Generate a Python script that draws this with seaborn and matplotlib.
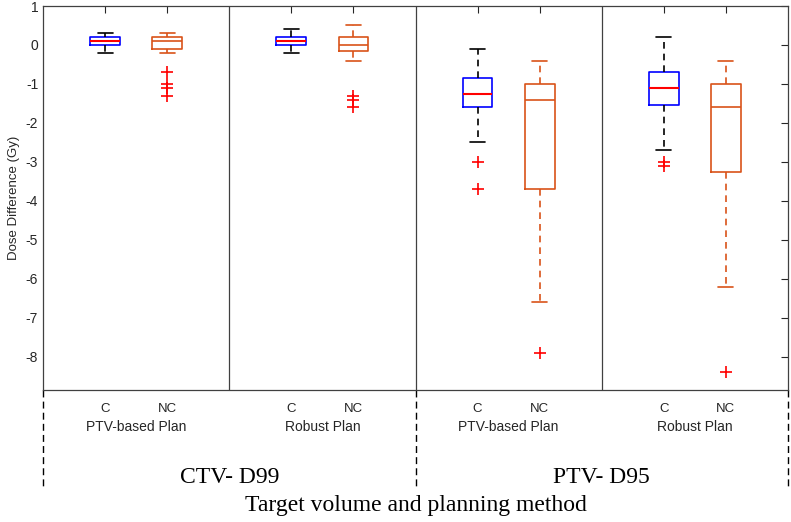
import numpy as np
import pandas as pd
import seaborn as sns
import matplotlib.pyplot as plt
import matplotlib.transforms as mtransforms

# box positions along x (gaps at 3, 6, 9 separate the plans)
positions = [1, 2, 4, 5, 7, 8, 10, 11]
kinds = ["C", "NC", "C", "NC", "C", "NC", "C", "NC"]
plan_labels = ["PTV-based Plan", "Robust Plan", "PTV-based Plan", "Robust Plan"]
volume_labels = ["CTV- D99", "PTV- D95"]

# dose differences (Gy), estimated from the figure
ctv_ptv_c = [-0.2, -0.1, -0.1, 0.0, 0.0, 0.0, 0.0, 0.1, 0.1, 0.1, 0.1,
             0.1, 0.1, 0.2, 0.2, 0.2, 0.2, 0.2, 0.3, 0.3, 0.3]
ctv_ptv_nc = [-1.3, -1.1, -1.0, -0.7, -0.2, -0.1, -0.1, 0.0, 0.0, 0.1, 0.1,
              0.1, 0.1, 0.2, 0.2, 0.2, 0.2, 0.2, 0.3, 0.3, 0.3]
ctv_rob_c = [-0.2, -0.1, -0.1, 0.0, 0.0, 0.0, 0.0, 0.1, 0.1, 0.1, 0.1,
             0.1, 0.1, 0.2, 0.2, 0.2, 0.2, 0.3, 0.3, 0.4, 0.4]
ctv_rob_nc = [-1.6, -1.4, -1.3, -0.4, -0.2, -0.15, -0.1, -0.1, 0.0, 0.0, 0.0,
              0.0, 0.1, 0.1, 0.1, 0.2, 0.2, 0.3, 0.3, 0.4, 0.5]
ptv_ptv_c = [-3.7, -3.0, -2.5, -2.1, -1.8, -1.6, -1.5, -1.4, -1.35, -1.3, -1.25,
             -1.2, -1.1, -1.0, -0.9, -0.85, -0.8, -0.6, -0.4, -0.3, -0.1]
ptv_ptv_nc = [-7.9, -6.6, -5.5, -4.6, -4.0, -3.7, -3.0, -2.4, -1.9, -1.6, -1.4,
              -1.3, -1.2, -1.1, -1.05, -1.0, -0.9, -0.8, -0.6, -0.5, -0.4]
ptv_rob_c = [-3.1, -3.0, -2.7, -2.2, -1.8, -1.55, -1.4, -1.3, -1.2, -1.15, -1.1,
             -1.0, -0.95, -0.9, -0.8, -0.7, -0.6, -0.4, -0.2, 0.0, 0.2]
ptv_rob_nc = [-8.4, -6.2, -5.1, -4.3, -3.6, -3.25, -2.8, -2.3, -2.0, -1.8, -1.6,
              -1.5, -1.4, -1.3, -1.1, -1.0, -0.9, -0.8, -0.6, -0.5, -0.4]

groups = [ctv_ptv_c, ctv_ptv_nc, ctv_rob_c, ctv_rob_nc,
          ptv_ptv_c, ptv_ptv_nc, ptv_rob_c, ptv_rob_nc]

rows = []
for pos, kind, vals in zip(positions, kinds, groups):
    for v in vals:
        rows.append({"pos": pos, "kind": kind, "value": v})
df = pd.DataFrame(rows)

sns.set_theme(style="white")
plt.rcParams["font.family"] = ["Liberation Sans", "DejaVu Sans"]
plt.rcParams["axes.unicode_minus"] = False

fig, ax = plt.subplots(figsize=(7.91, 5.22), dpi=100)
fig.subplots_adjust(left=43 / 791, right=788 / 791, top=1 - 6 / 522, bottom=1 - 390 / 522)

blue = "#0000FF"
orange = "#D95319"
flier = dict(marker="+", markeredgecolor="red", markerfacecolor="red",
             markersize=8, markeredgewidth=1.2)

sns.boxplot(data=df[df["kind"] == "C"], x="pos", y="value", orient="x",
            native_scale=True, width=0.16, fill=False, whis=1.5, ax=ax,
            boxprops=dict(color=blue, linewidth=1.2),
            medianprops=dict(color="red", linewidth=1.5),
            whiskerprops=dict(color="black", linewidth=1.2, linestyle=(0, (4, 3))),
            capprops=dict(color="black", linewidth=1.2),
            flierprops=flier)
sns.boxplot(data=df[df["kind"] == "NC"], x="pos", y="value", orient="x",
            native_scale=True, width=0.16, fill=False, whis=1.5, ax=ax,
            boxprops=dict(color=orange, linewidth=1.2),
            medianprops=dict(color=orange, linewidth=1.2),
            whiskerprops=dict(color=orange, linewidth=1.2, linestyle=(0, (4, 3))),
            capprops=dict(color=orange, linewidth=1.2),
            flierprops=flier)

ax.set_xlim(0, 12)
ax.set_ylim(-8.85, 1)
ax.set_yticks(range(-8, 2))
ax.set_xticks(positions)
ax.set_xticklabels(kinds, fontsize=9.5)
ax.set_xlabel("")
ax.set_ylabel("Dose Difference (Gy)", fontsize=9.5, color="#262626", labelpad=4)
ax.tick_params(direction="in", top=True, right=True, length=5, width=0.8,
               colors="#262626", labelsize=10)
ax.tick_params(axis="x", pad=9, labelsize=9.5)
for s in ax.spines.values():
    s.set_color("#404040")
    s.set_linewidth(0.9)

for xv in [3, 6, 9]:
    ax.axvline(xv, color="#404040", linewidth=0.9)

trans = mtransforms.blended_transform_factory(ax.transData, ax.transAxes)
for xv in [0, 6, 12]:
    ax.plot([xv, xv], [0, -0.2526], transform=trans, clip_on=False,
            color="black", linewidth=1.0, linestyle=(0, (5, 3)))

for xc, lab in zip([1.5, 4.5, 7.5, 10.5], plan_labels):
    ax.text(xc, -0.096, lab, transform=trans, ha="center", va="center",
            fontsize=10, color="#262626")

for xc, lab in zip([3, 9], volume_labels):
    ax.text(xc, -0.2266, lab, transform=trans, ha="center", va="center",
            fontsize=17, family=["Liberation Serif", "DejaVu Serif"], color="black")

ax.text(6, -0.3, "Target volume and planning method", transform=trans,
        ha="center", va="center", fontsize=17,
        family=["Liberation Serif", "DejaVu Serif"], color="black")

fig.savefig("out.png", dpi=100)
